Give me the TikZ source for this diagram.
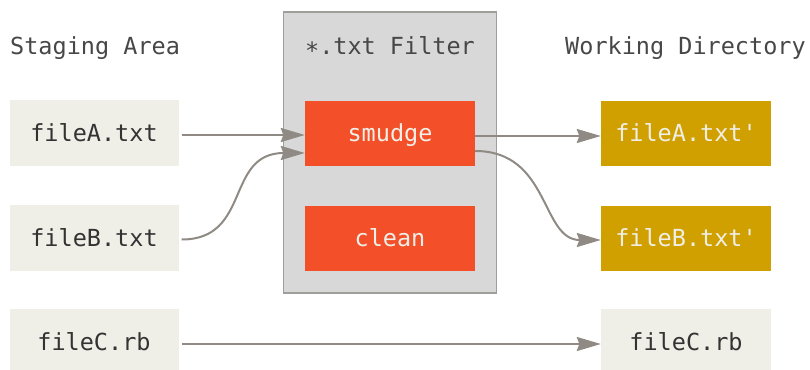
\documentclass[tikz,border=0pt]{standalone}
\usepackage{fontspec}
\setmonofont{DejaVu Sans Mono}
\usetikzlibrary{arrows.meta}
\definecolor{stagebg}{HTML}{F0EFE7}
\definecolor{filterbg}{HTML}{D8D8D8}
\definecolor{filterline}{HTML}{A09E9B}
\definecolor{filterred}{HTML}{F34F29}
\definecolor{gold}{HTML}{D0A000}
\definecolor{arrowgray}{HTML}{8F8A83}
\definecolor{darktext}{HTML}{333333}
\definecolor{lighttext}{HTML}{F0EFE7}
\tikzset{
  every node/.style={font=\ttfamily\fontsize{23.5}{28}\selectfont},
  filebox/.style={inner sep=0pt, minimum width=169pt, minimum height=66pt,
    text height=17pt, text depth=0pt, anchor=center},
  stagebox/.style={filebox, fill=stagebg, text=darktext},
  redbox/.style={filebox, fill=filterred, text=lighttext},
  goldbox/.style={filebox, fill=gold, text=lighttext},
  header/.style={inner sep=0pt, text=darktext!90},
  flow/.style={draw=arrowgray, line width=2pt,
    -{Stealth[length=24pt,width=14pt,inset=2.5pt]}},
}
\begin{document}
\begin{tikzpicture}[x=1pt,y=-1pt]
\useasboundingbox (0,0) rectangle (810,369);
% filter panel
\node[draw=filterline, line width=1.5pt, fill=filterbg, inner sep=0pt,
  minimum width=213pt, minimum height=281pt] (filter) at (390,152.5) {};
% headers
\node[header, anchor=base west] (staging) at (10,55) {Staging Area};
\node[header, anchor=base] (filtertitle) at (390,55) {∗.txt Filter};
\node[header, anchor=base west] (working) at (565,55) {Working Directory};
% boxes
\node[stagebox] (fa) at (94,133) {fileA.txt};
\node[stagebox] (fb) at (94,238) {fileB.txt};
\node[stagebox] (fc) at (94,342) {fileC.rb};
\node[redbox, minimum width=170pt, minimum height=65pt] (smudge) at (390,133) {smudge};
\node[redbox, minimum width=170pt, minimum height=65pt] (clean) at (390,238) {clean};
\node[goldbox, minimum width=170pt, minimum height=65pt] (fa2) at (686,133) {fileA.txt'};
\node[goldbox, minimum width=170pt, minimum height=65pt] (fb2) at (686,238) {fileB.txt'};
\node[stagebox, minimum width=170pt] (fc2) at (686,342) {fileC.rb};
% connectors
\draw[flow] ([xshift=3pt,yshift=-2pt]fa.east) -- ([yshift=-2pt]smudge.west);
\draw[flow] ([xshift=3pt,yshift=-1.5pt]fb.east) .. controls +(70,0) and +(-80,0) .. ([yshift=-20pt]smudge.west);
\draw[flow] ([yshift=-3pt]smudge.east) -- ([yshift=-3pt]fa2.west);
\draw[flow] ([yshift=-18pt]smudge.east) .. controls +(75,0) and +(-60,0) .. ([yshift=-2pt]fb2.west);
\draw[flow] ([xshift=3pt,yshift=-2pt]fc.east) -- ([yshift=-2pt]fc2.west);
\end{tikzpicture}
\end{document}
